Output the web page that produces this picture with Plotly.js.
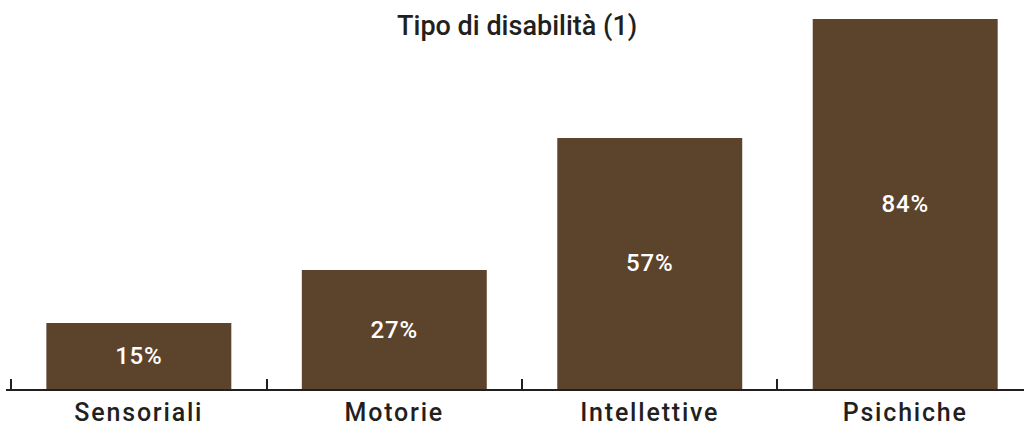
<!DOCTYPE html>
<html>
<head>
<meta charset="utf-8">
<script src="https://cdn.plot.ly/plotly-3.0.1.min.js"></script>
<style>
  html, body { margin: 0; padding: 0; background: #fff; }
  #chart { width: 1024px; height: 430px; }
  /* the original labels are tracked out a little */
  #chart .xtick text { letter-spacing: 1.8px; }
  #chart .bartext { letter-spacing: 0.8px; }
</style>
</head>
<body>
<div id="chart"></div>
<script>
// Chart data
const categories = ['Sensoriali', 'Motorie', 'Intellettive', 'Psichiche'];
const percentages = [15, 27, 57, 84];
const chartTitle = 'Tipo di disabilità (1)';

const barColor = '#5c442c';
const inkColor = '#231f20';
const fontFamily = 'Roboto, sans-serif';

const barTrace = {
    x: categories,
    y: percentages,
    type: 'bar',
    marker: { color: barColor },
    text: percentages.map(v => v + '%'),
    textposition: 'inside',
    insidetextanchor: 'middle',
    textfont: { family: fontFamily, size: 24, weight: 500, color: '#ffffff' },
    hoverinfo: 'none'
};

const layout = {
    width: 1024,
    height: 430,
    margin: { l: 6, r: 0, t: 19, b: 41 },
    paper_bgcolor: '#ffffff',
    plot_bgcolor: '#ffffff',
    showlegend: false,
    bargap: 0.276,
    title: {
        text: chartTitle,
        x: 0.505,
        xanchor: 'center',
        y: 1 - 26 / 430,
        yanchor: 'middle',
        yref: 'container',
        font: { family: fontFamily, size: 27, weight: 500, color: inkColor }
    },
    xaxis: {
        type: 'category',
        range: [-0.52, 3.465],
        showline: true,
        linecolor: inkColor,
        linewidth: 2,
        ticks: 'inside',
        tickson: 'boundaries',
        ticklen: 10,
        tickwidth: 2,
        tickcolor: inkColor,
        showgrid: false,
        tickfont: { family: fontFamily, size: 25, weight: 500, color: inkColor },
        fixedrange: true
    },
    yaxis: {
        range: [0, 84],
        visible: false,
        showgrid: false,
        zeroline: false,
        fixedrange: true
    },
    font: { family: fontFamily }
};

Plotly.newPlot('chart', [barTrace], layout, { displayModeBar: false, staticPlot: true });
</script>
</body>
</html>
